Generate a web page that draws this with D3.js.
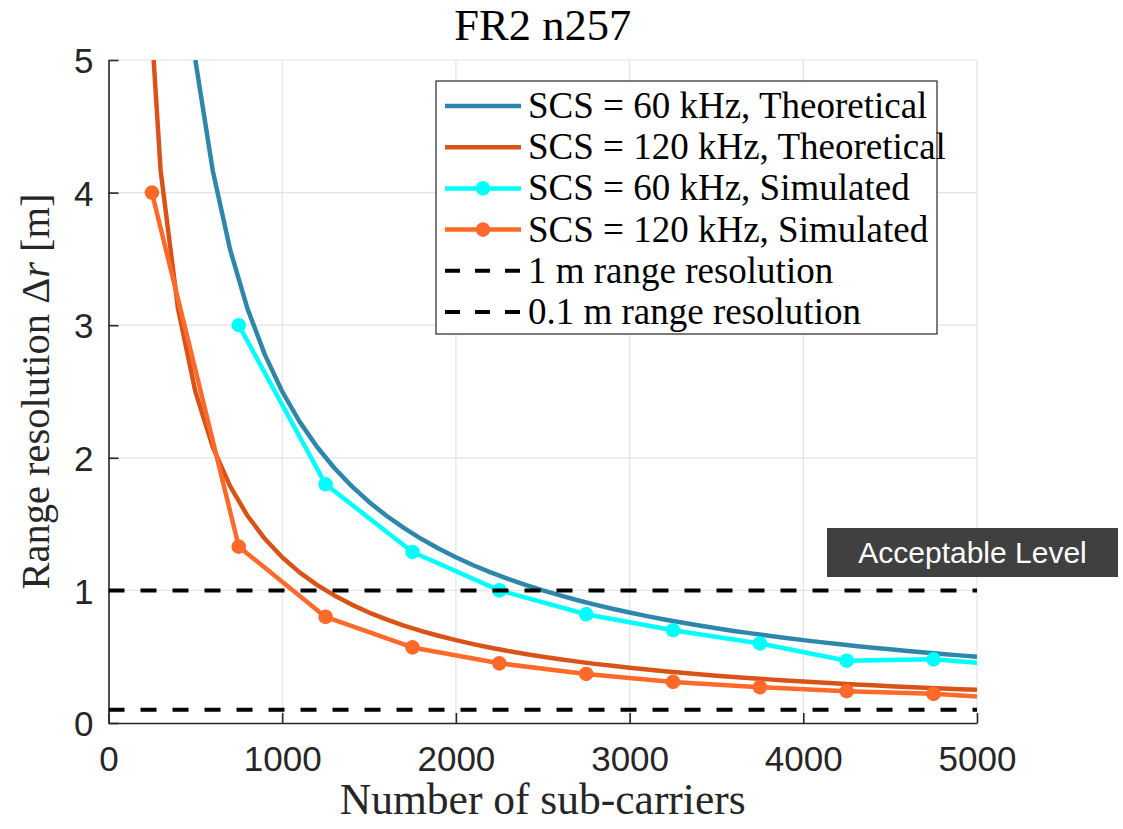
<!DOCTYPE html>
<html>
<head>
<meta charset="utf-8">
<script src="https://cdn.jsdelivr.net/npm/d3@7"></script>
<style>
  body { margin: 0; background: #fff; }
</style>
</head>
<body>
<div id="chart"></div>
<script>
var theo60_n = [500,600,700,800,900,1000,1100,1200,1300,1400,1500,1600,1700,1800,1900,2000,2100,2200,2300,2400,2500,2600,2700,2800,2900,3000,3100,3200,3300,3400,3500,3600,3700,3800,3900,4000,4100,4200,4300,4400,4500,4600,4700,4800,4900,5000]
var theo60_r = [5.000,4.167,3.571,3.125,2.778,2.500,2.273,2.083,1.923,1.786,1.667,1.563,1.471,1.389,1.316,1.250,1.190,1.136,1.087,1.042,1.000,0.962,0.926,0.893,0.862,0.833,0.806,0.781,0.758,0.735,0.714,0.694,0.676,0.658,0.641,0.625,0.610,0.595,0.581,0.568,0.556,0.543,0.532,0.521,0.510,0.500]

var theo120_n = [200,300,400,500,600,700,800,900,1000,1100,1200,1300,1400,1500,1600,1700,1800,1900,2000,2100,2200,2300,2400,2500,2600,2700,2800,2900,3000,3100,3200,3300,3400,3500,3600,3700,3800,3900,4000,4100,4200,4300,4400,4500,4600,4700,4800,4900,5000]
var theo120_r = [6.250,4.167,3.125,2.500,2.083,1.786,1.563,1.389,1.250,1.136,1.042,0.962,0.893,0.833,0.781,0.735,0.694,0.658,0.625,0.595,0.568,0.543,0.521,0.500,0.481,0.463,0.446,0.431,0.417,0.403,0.391,0.379,0.368,0.357,0.347,0.338,0.329,0.321,0.313,0.305,0.298,0.291,0.284,0.278,0.272,0.266,0.260,0.255,0.250]

// Simulated points (last point lies past the axis and gets clipped)
var sim60_n = [750,1250,1750,2250,2750,3250,3750,4250,4750,5250]
var sim60_r = [3.00,1.80,1.29,1.00,0.82,0.70,0.60,0.47,0.48,0.43]

var sim120_n = [250,750,1250,1750,2250,2750,3250,3750,4250,4750,5250]
var sim120_r = [4.00,1.33,0.80,0.57,0.45,0.37,0.31,0.27,0.24,0.22,0.18]

// Reference levels
var ref_levels = [1, 0.1]

var x_ticks = [0,1000,2000,3000,4000,5000]
var y_ticks = [0,1,2,3,4,5]

var legend_labels = ['SCS = 60 kHz, Theoretical', 'SCS = 120 kHz, Theoretical',
  'SCS = 60 kHz, Simulated', 'SCS = 120 kHz, Simulated',
  '1 m range resolution', '0.1 m range resolution']

var c_blue = '#2e87aa'
var c_red = '#d95319'
var c_cyan = '#00ffff'
var c_orange = '#ff6929'

var svg = d3.select('#chart')
  .append('svg')
  .attr('width', 1123)
  .attr('height', 829)

var p_left = 108.5, p_right = 977, p_top = 60, p_bottom = 723

var x = d3.scaleLinear().domain([0, 5000]).range([p_left, p_right])
var y = d3.scaleLinear().domain([0, 5]).range([p_bottom, p_top])

svg.append('clipPath').attr('id', 'plotclip')
  .append('rect')
  .attr('x', p_left).attr('y', p_top)
  .attr('width', p_right - p_left).attr('height', p_bottom - p_top)

// grid
var grid = svg.append('g')
grid.selectAll('.gx').data(x_ticks.slice(1)).enter().append('line')
  .attr('x1', d => x(d)).attr('x2', d => x(d))
  .attr('y1', p_top).attr('y2', p_bottom)
  .attr('stroke', '#e3e3e3').attr('stroke-width', 1.2)
grid.selectAll('.gy').data(y_ticks.slice(1)).enter().append('line')
  .attr('x1', p_left).attr('x2', p_right)
  .attr('y1', d => y(d)).attr('y2', d => y(d))
  .attr('stroke', '#e3e3e3').attr('stroke-width', 1.2)

// axes
var xAxis = svg.append('g')
  .attr('transform', 'translate(0,' + p_bottom + ')')
  .call(d3.axisBottom(x).tickValues(x_ticks).tickSizeInner(-10).tickSizeOuter(0).tickPadding(0).tickFormat(d3.format('d')))
var yAxis = svg.append('g')
  .attr('transform', 'translate(' + p_left + ',0)')
  .call(d3.axisLeft(y).tickValues(y_ticks).tickSizeInner(-10).tickSizeOuter(0).tickPadding(0).tickFormat(d3.format('d')))

;[xAxis, yAxis].forEach(function(a){
  a.select('.domain').attr('stroke', '#262626').attr('stroke-width', 1.6)
  a.selectAll('.tick line').attr('stroke', '#262626').attr('stroke-width', 1.6)
  a.selectAll('.tick text')
    .attr('fill', '#262626')
    .attr('font-family', 'Liberation Sans, Arial, sans-serif')
    .attr('font-size', 35)
})
xAxis.selectAll('.tick text').attr('y', 48).attr('dy', 0)
yAxis.selectAll('.tick text').attr('x', -15).attr('dy', '0.36em')

var plot = svg.append('g').attr('clip-path', 'url(#plotclip)')

var line = d3.line().x(d => x(d[0])).y(d => y(d[1]))

function pairs(n, r){ return n.map((v, i) => [v, r[i]]) }

plot.append('path').datum(pairs(theo60_n, theo60_r))
  .attr('d', line).attr('fill', 'none')
  .attr('stroke', c_blue).attr('stroke-width', 4.5).attr('stroke-linejoin', 'round')

plot.append('path').datum(pairs(theo120_n, theo120_r))
  .attr('d', line).attr('fill', 'none')
  .attr('stroke', c_red).attr('stroke-width', 4.5).attr('stroke-linejoin', 'round')

// simulated series with markers
;[[sim60_n, sim60_r, c_cyan], [sim120_n, sim120_r, c_orange]].forEach(function(s){
  var pts = pairs(s[0], s[1])
  plot.append('path').datum(pts)
    .attr('d', line).attr('fill', 'none')
    .attr('stroke', s[2]).attr('stroke-width', 4.5).attr('stroke-linejoin', 'round')
  plot.selectAll(null).data(pts).enter().append('circle')
    .attr('cx', d => x(d[0])).attr('cy', d => y(d[1]))
    .attr('r', 7.3).attr('fill', s[2])
})

// reference lines
plot.selectAll(null).data(ref_levels).enter().append('line')
  .attr('x1', x(0)).attr('x2', x(5000))
  .attr('y1', d => y(d)).attr('y2', d => y(d))
  .attr('stroke', '#000').attr('stroke-width', 4)
  .attr('stroke-dasharray', '16,16')

// title and labels
svg.append('text')
  .text('FR2 n257')
  .attr('x', (p_left + p_right) / 2).attr('y', 40)
  .attr('text-anchor', 'middle')
  .attr('font-family', 'Liberation Serif, serif')
  .attr('font-size', 44.5).attr('fill', '#000')

svg.append('text')
  .text('Number of sub-carriers')
  .attr('x', (p_left + p_right) / 2).attr('y', 814)
  .attr('text-anchor', 'middle')
  .attr('font-family', 'Liberation Serif, serif')
  .attr('font-size', 43.5).attr('fill', '#262626')

var ylab = svg.append('text')
  .attr('transform', 'translate(49,' + (p_top + p_bottom) / 2 + ') rotate(-90)')
  .attr('text-anchor', 'middle')
  .attr('font-family', 'Liberation Serif, serif')
  .attr('font-size', 40.5).attr('fill', '#262626')
ylab.append('tspan').text('Range resolution \u0394')
ylab.append('tspan').text('r').attr('font-style', 'italic')
ylab.append('tspan').text(' [m]')

// legend
var lg = svg.append('g')
lg.append('rect')
  .attr('x', 436).attr('y', 81).attr('width', 501).attr('height', 253)
  .attr('fill', '#fff').attr('stroke', '#262626').attr('stroke-width', 1.2)

var lg_colors = [c_blue, c_red, c_cyan, c_orange, '#000', '#000']
legend_labels.forEach(function(lab, i){
  var ly = 106 + i * 41.2
  var ln = lg.append('line')
    .attr('x1', 445).attr('x2', 521)
    .attr('y1', ly).attr('y2', ly)
    .attr('stroke', lg_colors[i]).attr('stroke-width', 4.5)
  if (i >= 4) ln.attr('stroke-dasharray', '15,15').attr('stroke-width', 4)
  if (i == 2 || i == 3) {
    lg.append('circle').attr('cx', 483).attr('cy', ly).attr('r', 7.3).attr('fill', lg_colors[i])
  }
  lg.append('text')
    .text(lab)
    .attr('x', 528).attr('y', ly + 12)
    .attr('font-family', 'Liberation Serif, serif')
    .attr('font-size', 37).attr('fill', '#000')
})

// Acceptable level label
svg.append('rect')
  .attr('x', 827).attr('y', 528).attr('width', 291).attr('height', 49)
  .attr('fill', '#404040')
svg.append('text')
  .text('Acceptable Level')
  .attr('x', 972.5).attr('y', 563)
  .attr('text-anchor', 'middle')
  .attr('font-family', 'Liberation Sans, Arial, sans-serif')
  .attr('font-size', 30).attr('fill', '#fff')
</script>
</body>
</html>
